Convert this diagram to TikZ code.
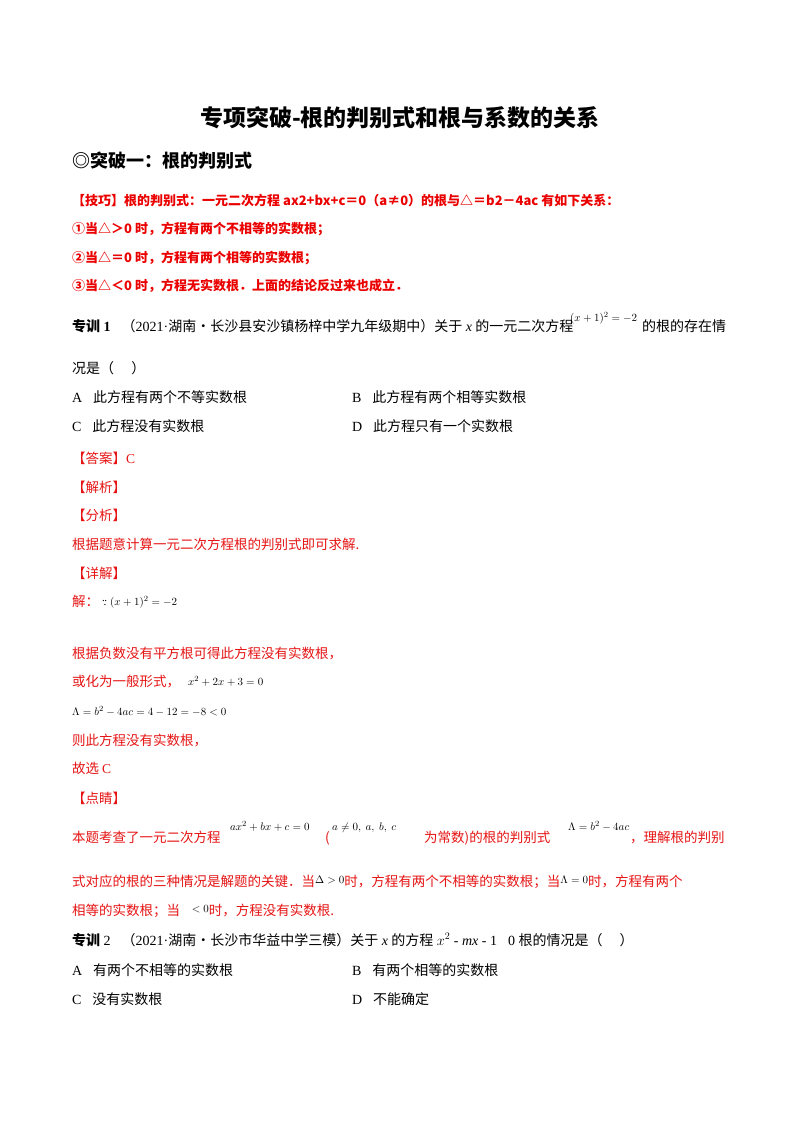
\documentclass[tikz,border=0pt]{standalone}
\usepackage{fontspec}
\setmainfont{Liberation Serif}
\newfontfamily\zh{Noto Sans CJK SC}
\newfontfamily\dv{DejaVu Sans}
\newcommand{\mybecause}{\mathrel{\vbox{\baselineskip=0.6ex\lineskiplimit=0pt\hbox{.\kern-0.05em.}\hbox{\kern0.12em.}}}}
\begin{document}
\begin{tikzpicture}[x=1pt,y=-1pt,
  txt/.style={anchor=base west,inner sep=0pt,font=\fontsize{14}{16}\selectfont},
  rtxt/.style={txt,text={rgb,255:red,230;green,20;blue,20},font=\fontsize{13.5}{16}\selectfont\zh},
  rb/.style={txt,text={rgb,255:red,235;green,0;blue,0},font=\fontsize{13}{16}\selectfont\zh\bfseries},
  sm/.style={anchor=base west,inner sep=0pt,font=\fontsize{11}{12}\selectfont}]
\useasboundingbox[fill=white] (0,0) rectangle (800,1132);
\node[anchor=base,inner sep=0pt,font=\fontsize{23}{26}\selectfont\zh\bfseries] (title) at (400,126) {专项突破-根的判别式和根与系数的关系};
\node[txt,font=\fontsize{18}{20}\selectfont\zh\bfseries] (sec) at (72,167) {◎突破一：根的判别式};
\node[rb] (k0) at (72,205) {【技巧】根的判别式：一元二次方程 ax2+bx+c＝0（a≠0）的根与△＝b2－4ac 有如下关系：};
\node[rb] (k1) at (72,233) {①当△＞0 时，方程有两个不相等的实数根；};
\node[rb] (k2) at (72,262) {②当△＝0 时，方程有两个相等的实数根；};
\node[rb] (k3) at (72,290) {③当△＜0 时，方程无实数根．上面的结论反过来也成立．};
\node[txt] (q1) at (72,331) {{\zh\bfseries 专训} \textbf{1}．{\zh （}2021·{\zh 湖南·长沙县安沙镇杨梓中学九年级期中）关于} \textit{x} {\zh 的一元二次方程}};
\node[sm] (q1e) at (570,321) {$(x+1)^2=-2$};
\node[txt] (q1b) at (642,331) {\zh 的根的存在情};
\node[txt] (q1c) at (72,373) {\zh 况是（\quad\ ）};
\node[txt] (a1) at (72,402) {A．{\zh 此方程有两个不等实数根}};
\node[txt] (b1) at (352,402) {B．{\zh 此方程有两个相等实数根}};
\node[txt] (c1) at (72,431) {C．{\zh 此方程没有实数根}};
\node[txt] (d1) at (352,431) {D．{\zh 此方程只有一个实数根}};
\node[rtxt] (ans) at (72,463) {【答案】{\rmfamily C}};
\node[rtxt] (jx) at (72,492) {【解析】};
\node[rtxt] (fx) at (72,520) {【分析】};
\node[rtxt] (fx1) at (72,549) {根据题意计算一元二次方程根的判别式即可求解.};
\node[rtxt] (xj) at (72,578) {【详解】};
\node[rtxt] (jie) at (72,606) {解：};
\node[sm] (jiee) at (102,605) {$\mybecause(x+1)^2=-2$};
\node[rtxt] (s1) at (72,658) {根据负数没有平方根可得此方程没有实数根，};
\node[rtxt] (s2) at (72,686) {或化为一般形式，};
\node[sm] (s2e) at (188,685) {$x^2+2x+3=0$};
\node[sm] (s3) at (72,715) {$\Lambda=b^2-4ac=4-12=-8<0$};
\node[rtxt] (s4) at (72,745) {则此方程没有实数根，};
\node[rtxt] (s5) at (72,773) {故选 {\rmfamily C}};
\node[rtxt] (dj) at (72,803) {【点睛】};
\node[rtxt] (p1) at (72,842) {本题考查了一元二次方程};
\node[sm] (p1e) at (230,830) {$ax^2+bx+c=0$};
\node[rtxt] (p1p) at (325,842) {(};
\node[sm] (p1f) at (332,830) {$a\neq0,\ a,\ b,\ c$};
\node[rtxt] (p1g) at (424,842) {为常数)的根的判别式};
\node[sm] (p1h) at (568,830) {$\Lambda=b^2-4ac$};
\node[rtxt] (p1i) at (630,842) {，理解根的判别};
\node[rtxt] (p2) at (72,886) {式对应的根的三种情况是解题的关键．当\raisebox{3pt}{\rmfamily\color{black}\fontsize{11}{12}\selectfont$\Delta>0$}时，方程有两个不相等的实数根；当\raisebox{3pt}{\rmfamily\color{black}\fontsize{11}{12}\selectfont$\Lambda=0$}时，方程有两个};
\node[rtxt] (p3) at (72,915) {相等的实数根；当\raisebox{3pt}{\rmfamily\color{black}\fontsize{11}{12}\selectfont$\mathit{\Delta}<0$}时，方程没有实数根.};
\node[txt] (q2) at (72,945) {{\zh\bfseries 专训} 2．{\zh （}2021·{\zh 湖南·长沙市华益中学三模）关于} \textit{x} {\zh 的方程} $x^2$ - \textit{mx} - 1＝0 {\zh 根的情况是（\quad\ ）}};
\node[txt] (a2) at (72,975) {A．{\zh 有两个不相等的实数根}};
\node[txt] (b2) at (352,975) {B．{\zh 有两个相等的实数根}};
\node[txt] (c2) at (72,1004) {C．{\zh 没有实数根}};
\node[txt] (d2) at (352,1004) {D．{\zh 不能确定}};
\end{tikzpicture}
\end{document}
